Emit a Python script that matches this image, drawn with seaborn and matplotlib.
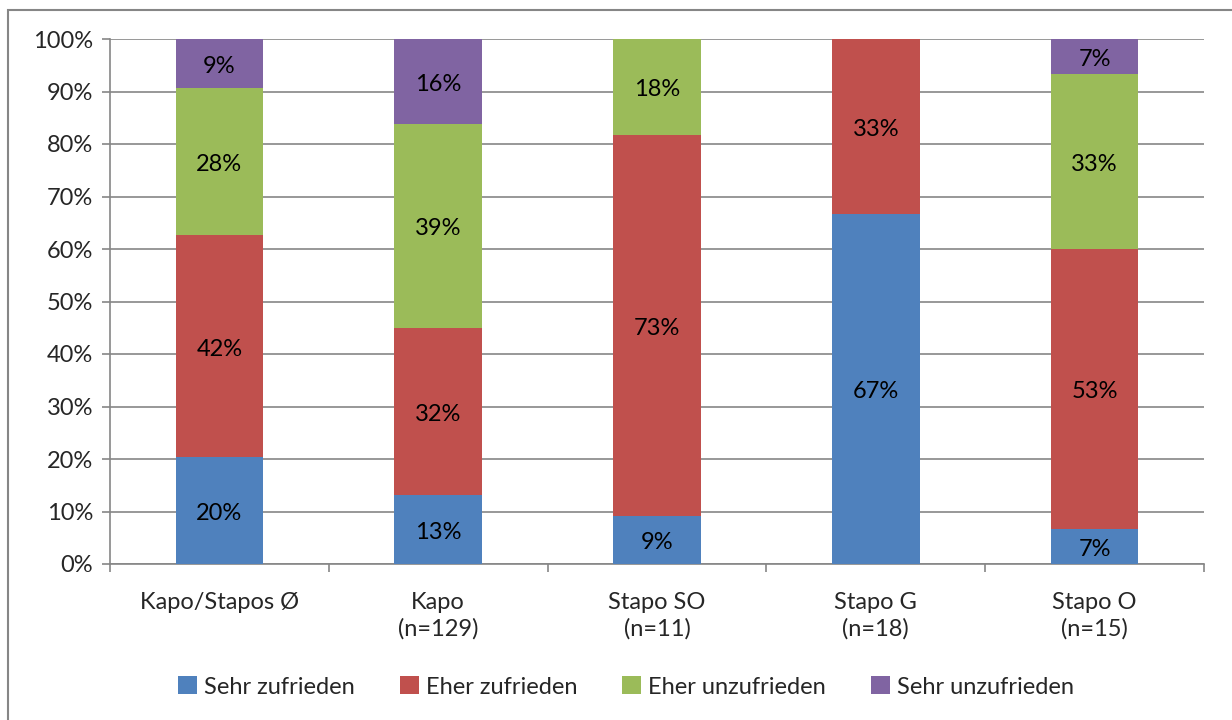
import matplotlib
matplotlib.use("Agg")
import matplotlib.pyplot as plt
import seaborn as sns
import pandas as pd
import numpy as np
from matplotlib.patches import Rectangle, Patch

categories = ["Kapo/Stapos Ø", "Kapo\n(n=129)", "Stapo SO\n(n=11)", "Stapo G\n(n=18)", "Stapo O\n(n=15)"]
series_names = ["Sehr zufrieden", "Eher zufrieden", "Eher unzufrieden", "Sehr unzufrieden"]
sehr_zufrieden = [20.3, 13.2, 9.1, 66.7, 6.7]
eher_zufrieden = [42.3, 31.8, 72.7, 33.3, 53.3]
eher_unzufrieden = [28.1, 38.8, 18.2, 0.0, 33.3]
sehr_unzufrieden = [9.3, 16.3, 0.0, 0.0, 6.7]
colors = ["#4F81BD", "#C0504D", "#9BBB59", "#8064A2"]

sns.set_theme(style="white")
plt.rcParams['font.family'] = ['Lato', 'DejaVu Sans']
FS = 17

fig = plt.figure(figsize=(12.32, 7.2), dpi=100)
ax = fig.add_axes([110/1232, 1-564/720, (1204-110)/1232, (564-39)/720])

# outer border
fig.patches.append(Rectangle((8/1232, -0.1), 1.2, 1-10/720+0.1, transform=fig.transFigure,
                             fill=False, edgecolor="#868686", linewidth=1.5, zorder=0))

series = [sehr_zufrieden, eher_zufrieden, eher_unzufrieden, sehr_unzufrieden]
bottom = np.zeros(len(categories))
for name, vals, col in zip(series_names, series, colors):
    df = pd.DataFrame({"cat": categories, "val": vals})
    sns.barplot(data=df, x="cat", y="val", color=col, bottom=bottom, width=0.4,
                ax=ax, saturation=1, edgecolor="none", zorder=3)
    for i, v in enumerate(vals):
        if v > 0:
            ax.annotate(f"{round(v):d}%", (i, bottom[i] + v / 2), xytext=(0, -2),
                        textcoords="offset points", ha="center", va="center",
                        fontsize=FS, color="black", zorder=5)
    bottom = bottom + np.array(vals)

ax.set_ylim(0, 100)
ax.set_xlim(-0.5, len(categories) - 0.5)
ax.set_yticks(np.arange(0, 101, 10))
ax.set_yticklabels([f"{t}%" for t in range(0, 101, 10)], fontsize=FS)
ax.set_xticks(range(len(categories)))
ax.set_xticklabels(categories, fontsize=FS, linespacing=1.3)
ax.set_xlabel("")
ax.set_ylabel("")
ax.yaxis.grid(True, color="#868686", linewidth=1.2, zorder=0)
ax.set_axisbelow(True)
for s in ["top", "right"]:
    ax.spines[s].set_visible(False)
for s in ["left", "bottom"]:
    ax.spines[s].set_color("#868686")
    ax.spines[s].set_linewidth(1.2)
ax.tick_params(axis="y", direction="out", length=6, color="#868686", width=1.2, pad=6, left=True)
ax.tick_params(axis="x", which="major", length=0, pad=20)
ax.set_xticks(np.arange(-0.5, len(categories), 1), minor=True)
ax.tick_params(axis="x", which="minor", direction="out", length=6, color="#868686", width=1.2, bottom=True)

handles = [Patch(facecolor=c, edgecolor="none") for c in colors]
fig.legend(handles, series_names, loc="center", bbox_to_anchor=(626/1232, 1-687/720), ncol=4,
           frameon=False, fontsize=FS, handlelength=0.8, handleheight=0.8,
           handletextpad=0.3, columnspacing=1.9)

fig.savefig("out.png", dpi=100)
